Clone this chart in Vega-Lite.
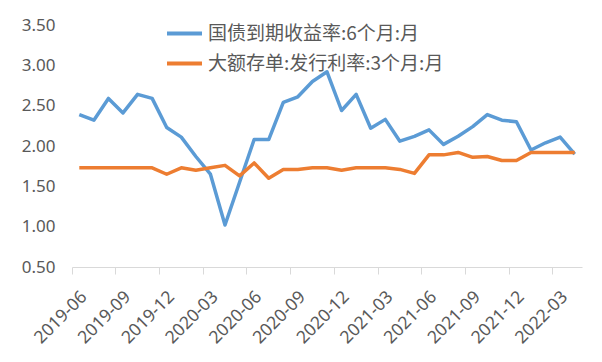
{
  "$schema": "https://vega.github.io/schema/vega-lite/v6.json",
  "width": 510,
  "height": 242,
  "autosize": {"type": "none"},
  "padding": {"left": 72, "top": 25, "right": 20, "bottom": 95},
  "background": "white",
  "datasets": {
    "rows": [
      {"month": "2019-06", "series": "国债到期收益率:6个月:月", "value": 2.39},
      {"month": "2019-07", "series": "国债到期收益率:6个月:月", "value": 2.32},
      {"month": "2019-08", "series": "国债到期收益率:6个月:月", "value": 2.59},
      {"month": "2019-09", "series": "国债到期收益率:6个月:月", "value": 2.41},
      {"month": "2019-10", "series": "国债到期收益率:6个月:月", "value": 2.64},
      {"month": "2019-11", "series": "国债到期收益率:6个月:月", "value": 2.59},
      {"month": "2019-12", "series": "国债到期收益率:6个月:月", "value": 2.23},
      {"month": "2020-01", "series": "国债到期收益率:6个月:月", "value": 2.11},
      {"month": "2020-02", "series": "国债到期收益率:6个月:月", "value": 1.87},
      {"month": "2020-03", "series": "国债到期收益率:6个月:月", "value": 1.65},
      {"month": "2020-04", "series": "国债到期收益率:6个月:月", "value": 1.02},
      {"month": "2020-05", "series": "国债到期收益率:6个月:月", "value": 1.55},
      {"month": "2020-06", "series": "国债到期收益率:6个月:月", "value": 2.08},
      {"month": "2020-07", "series": "国债到期收益率:6个月:月", "value": 2.08},
      {"month": "2020-08", "series": "国债到期收益率:6个月:月", "value": 2.54},
      {"month": "2020-09", "series": "国债到期收益率:6个月:月", "value": 2.61},
      {"month": "2020-10", "series": "国债到期收益率:6个月:月", "value": 2.80},
      {"month": "2020-11", "series": "国债到期收益率:6个月:月", "value": 2.92},
      {"month": "2020-12", "series": "国债到期收益率:6个月:月", "value": 2.44},
      {"month": "2021-01", "series": "国债到期收益率:6个月:月", "value": 2.64},
      {"month": "2021-02", "series": "国债到期收益率:6个月:月", "value": 2.22},
      {"month": "2021-03", "series": "国债到期收益率:6个月:月", "value": 2.33},
      {"month": "2021-04", "series": "国债到期收益率:6个月:月", "value": 2.06},
      {"month": "2021-05", "series": "国债到期收益率:6个月:月", "value": 2.12},
      {"month": "2021-06", "series": "国债到期收益率:6个月:月", "value": 2.20},
      {"month": "2021-07", "series": "国债到期收益率:6个月:月", "value": 2.02},
      {"month": "2021-08", "series": "国债到期收益率:6个月:月", "value": 2.12},
      {"month": "2021-09", "series": "国债到期收益率:6个月:月", "value": 2.24},
      {"month": "2021-10", "series": "国债到期收益率:6个月:月", "value": 2.39},
      {"month": "2021-11", "series": "国债到期收益率:6个月:月", "value": 2.32},
      {"month": "2021-12", "series": "国债到期收益率:6个月:月", "value": 2.30},
      {"month": "2022-01", "series": "国债到期收益率:6个月:月", "value": 1.95},
      {"month": "2022-02", "series": "国债到期收益率:6个月:月", "value": 2.04},
      {"month": "2022-03", "series": "国债到期收益率:6个月:月", "value": 2.11},
      {"month": "2022-04", "series": "国债到期收益率:6个月:月", "value": 1.90},
      {"month": "2019-06", "series": "大额存单:发行利率:3个月:月", "value": 1.73},
      {"month": "2019-07", "series": "大额存单:发行利率:3个月:月", "value": 1.73},
      {"month": "2019-08", "series": "大额存单:发行利率:3个月:月", "value": 1.73},
      {"month": "2019-09", "series": "大额存单:发行利率:3个月:月", "value": 1.73},
      {"month": "2019-10", "series": "大额存单:发行利率:3个月:月", "value": 1.73},
      {"month": "2019-11", "series": "大额存单:发行利率:3个月:月", "value": 1.73},
      {"month": "2019-12", "series": "大额存单:发行利率:3个月:月", "value": 1.65},
      {"month": "2020-01", "series": "大额存单:发行利率:3个月:月", "value": 1.73},
      {"month": "2020-02", "series": "大额存单:发行利率:3个月:月", "value": 1.70},
      {"month": "2020-03", "series": "大额存单:发行利率:3个月:月", "value": 1.73},
      {"month": "2020-04", "series": "大额存单:发行利率:3个月:月", "value": 1.76},
      {"month": "2020-05", "series": "大额存单:发行利率:3个月:月", "value": 1.63},
      {"month": "2020-06", "series": "大额存单:发行利率:3个月:月", "value": 1.79},
      {"month": "2020-07", "series": "大额存单:发行利率:3个月:月", "value": 1.60},
      {"month": "2020-08", "series": "大额存单:发行利率:3个月:月", "value": 1.71},
      {"month": "2020-09", "series": "大额存单:发行利率:3个月:月", "value": 1.71},
      {"month": "2020-10", "series": "大额存单:发行利率:3个月:月", "value": 1.73},
      {"month": "2020-11", "series": "大额存单:发行利率:3个月:月", "value": 1.73},
      {"month": "2020-12", "series": "大额存单:发行利率:3个月:月", "value": 1.70},
      {"month": "2021-01", "series": "大额存单:发行利率:3个月:月", "value": 1.73},
      {"month": "2021-02", "series": "大额存单:发行利率:3个月:月", "value": 1.73},
      {"month": "2021-03", "series": "大额存单:发行利率:3个月:月", "value": 1.73},
      {"month": "2021-04", "series": "大额存单:发行利率:3个月:月", "value": 1.71},
      {"month": "2021-05", "series": "大额存单:发行利率:3个月:月", "value": 1.66},
      {"month": "2021-06", "series": "大额存单:发行利率:3个月:月", "value": 1.89},
      {"month": "2021-07", "series": "大额存单:发行利率:3个月:月", "value": 1.89},
      {"month": "2021-08", "series": "大额存单:发行利率:3个月:月", "value": 1.92},
      {"month": "2021-09", "series": "大额存单:发行利率:3个月:月", "value": 1.86},
      {"month": "2021-10", "series": "大额存单:发行利率:3个月:月", "value": 1.87},
      {"month": "2021-11", "series": "大额存单:发行利率:3个月:月", "value": 1.82},
      {"month": "2021-12", "series": "大额存单:发行利率:3个月:月", "value": 1.82},
      {"month": "2022-01", "series": "大额存单:发行利率:3个月:月", "value": 1.92},
      {"month": "2022-02", "series": "大额存单:发行利率:3个月:月", "value": 1.92},
      {"month": "2022-03", "series": "大额存单:发行利率:3个月:月", "value": 1.92},
      {"month": "2022-04", "series": "大额存单:发行利率:3个月:月", "value": 1.92}
    ]
  },
  "data": {"name": "rows"},
  "mark": {"type": "line", "strokeWidth": 3.5, "strokeJoin": "round", "strokeCap": "butt"},
  "encoding": {
    "x": {
      "field": "month",
      "type": "ordinal",
      "sort": null,
      "bandPosition": 0.5,
      "scale": {"type": "band", "paddingInner": 0, "paddingOuter": 0},
      "axis": {
        "title": null,
        "values": ["2019-06", "2019-09", "2019-12", "2020-03", "2020-06", "2020-09", "2020-12", "2021-03", "2021-06", "2021-09", "2021-12", "2022-03"],
        "bandPosition": 0,
        "labelOffset": 5,
        "labelAngle": -45,
        "labelAlign": "right",
        "labelBaseline": "middle",
        "labelPadding": 20,
        "tickSize": 7,
        "domainColor": "#d9d9d9",
        "tickColor": "#d9d9d9",
        "labelFont": "Noto Sans",
        "labelFontSize": 17.5,
        "labelColor": "#595959",
        "labelOverlap": false,
        "labelFlush": false,
        "labelBound": false,
        "grid": false
      }
    },
    "y": {
      "field": "value",
      "type": "quantitative",
      "scale": {"domain": [0.5, 3.5], "nice": false, "zero": false},
      "axis": {
        "title": null,
        "values": [0.5, 1, 1.5, 2, 2.5, 3, 3.5],
        "format": ".2f",
        "domain": false,
        "ticks": false,
        "grid": false,
        "labelPadding": 17,
        "labelFont": "Noto Sans",
        "labelFontSize": 17,
        "labelColor": "#595959"
      }
    },
    "color": {
      "field": "series",
      "type": "nominal",
      "scale": {
        "domain": ["国债到期收益率:6个月:月", "大额存单:发行利率:3个月:月"],
        "range": ["#5B9BD5", "#ED7D31"]
      },
      "legend": {
        "title": null,
        "orient": "none",
        "legendX": 93,
        "legendY": -11,
        "symbolType": "stroke",
        "symbolSize": 1225,
        "symbolStrokeWidth": 4,
        "labelFont": "Noto Sans CJK SC",
        "labelFontSize": 19,
        "labelColor": "#595959",
        "rowPadding": -9,
        "padding": 0,
        "labelLimit": 400
      }
    }
  },
  "config": {"view": {"stroke": null}}
}
